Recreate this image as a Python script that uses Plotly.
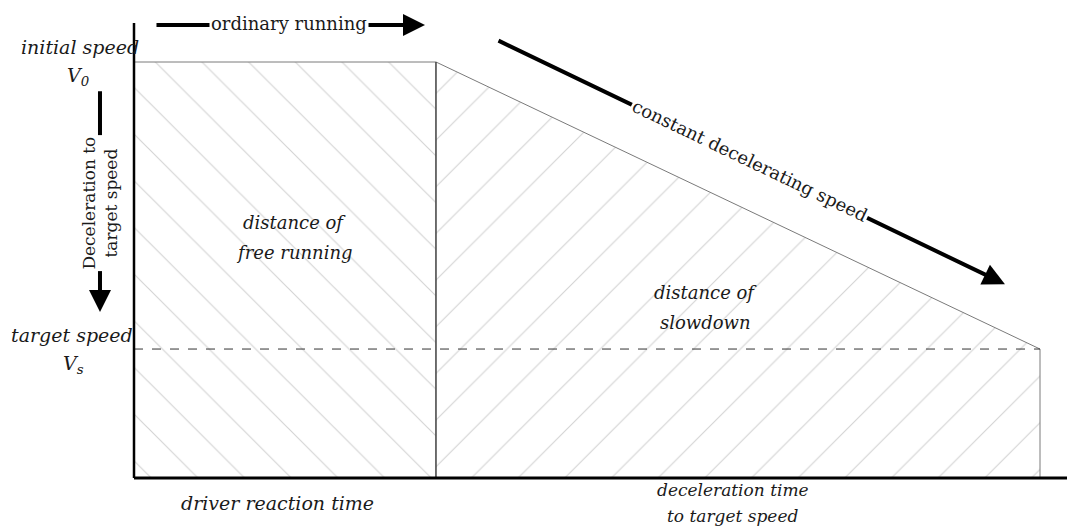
import plotly.graph_objects as go

# ---- data (time in units of reaction time, speed in % of initial speed) ----
time_points = [0.0, 1.0, 3.0]          # start, end of reaction, end of deceleration
initial_speed = 100.0                  # V0
target_speed = 31.0                    # Vs
axis_top = 109.4
axis_right = 3.11

FONT = "DejaVu Serif"
INK = "#1a1a1a"

t0, t1, t2 = time_points
fig = go.Figure()

HATCH = "#a8a8a8"

# free running area (reaction time, constant speed)
fig.add_trace(go.Scatter(
    x=[t0, t0, t1, t1, t0], y=[0, initial_speed, initial_speed, 0, 0],
    fill="toself", mode="lines", line=dict(color="#7a7a7a", width=1),
    fillcolor="white",
    fillpattern=dict(shape="\\", size=33, solidity=0.035, fgcolor=HATCH, bgcolor="white"),
    hoverinfo="skip", showlegend=False))

# slowdown area (constant deceleration)
fig.add_trace(go.Scatter(
    x=[t1, t1, t2, t2, t1], y=[0, initial_speed, target_speed, 0, 0],
    fill="toself", mode="lines", line=dict(color="#7a7a7a", width=1),
    fillcolor="white",
    fillpattern=dict(shape="/", size=33, solidity=0.035, fgcolor=HATCH, bgcolor="white"),
    hoverinfo="skip", showlegend=False))

# vertical separator at end of reaction time
fig.add_trace(go.Scatter(x=[t1, t1], y=[0, initial_speed], mode="lines",
                         line=dict(color="#333333", width=1), hoverinfo="skip", showlegend=False))

# target speed dashed line
fig.add_trace(go.Scatter(x=[t0, t2], y=[target_speed, target_speed], mode="lines",
                         line=dict(color="#333333", width=1, dash="dash"),
                         hoverinfo="skip", showlegend=False))

# axes
fig.add_trace(go.Scatter(x=[t0, t0], y=[0, axis_top], mode="lines",
                         line=dict(color="black", width=2.5), hoverinfo="skip", showlegend=False))
fig.add_trace(go.Scatter(x=[t0, axis_right], y=[0, 0], mode="lines",
                         line=dict(color="black", width=3), hoverinfo="skip", showlegend=False))

annotations = []

def arrow(x, y, ax, ay, head=2):
    annotations.append(dict(x=x, y=y, ax=ax, ay=ay, xref="x", yref="y", axref="x", ayref="y",
                            text="", showarrow=True, arrowhead=head, arrowsize=1.1,
                            arrowwidth=4, arrowcolor="black"))

def label(x, y, text, size=19, italic=True, angle=0, bg=None):
    d = dict(x=x, y=y, xref="x", yref="y", text=text, showarrow=False, textangle=angle,
             font=dict(family=FONT, size=size, color=INK,
                       style="italic" if italic else "normal"))
    if bg:
        d["bgcolor"] = bg
    annotations.append(d)

# arrows
arrow(0.9636, 108.9, 0.0695, 108.9)                 # ordinary running
arrow(-0.1126, 39.9, -0.1126, 93.3)                 # deceleration to target speed
arrow(2.884, 46.6, 1.202, 105.3)                    # constant decelerating speed

# texts on arrows (white background breaks the arrow line)
label(0.513, 109.3, "ordinary running", size=18, italic=False, bg="white")
label(-0.1126, 66.2, "Deceleration to<br>target speed", size=17, italic=False, angle=-90, bg="white")
label(2.040, 76.4, "constant decelerating speed", size=18, italic=False, angle=25.6, bg="white")

# level labels
label(-0.1788, 103.6, "initial speed", size=19)
label(-0.185, 96.4, "V<sub>0</sub>", size=19)
label(-0.2053, 34.4, "target speed", size=19)
label(-0.200, 27.2, "V<sub>s</sub>", size=19)

# area labels
label(0.533, 61.5, "distance of", size=18)
label(0.533, 54.3, "free running", size=18)
label(1.894, 44.7, "distance of", size=18)
label(1.894, 37.5, "slowdown", size=18)

# time labels
label(0.474, -6.0, "driver reaction time", size=19)
label(1.983, -2.9, "deceleration time", size=17)
label(1.983, -9.1, "to target speed", size=17)

# page body has an 8px margin: map figure pixels so that screen pixels line up
OFF = 8
W, H = 1075, 528
x_lo = (OFF - 134) / 302
x_hi = (OFF + W - 134) / 302
y_hi = (478 - OFF) / 4.16
y_lo = (478 - OFF - H) / 4.16

fig.update_layout(
    width=W, height=H,
    margin=dict(l=0, r=0, t=0, b=0),
    paper_bgcolor="white", plot_bgcolor="white",
    xaxis=dict(range=[x_lo, x_hi], visible=False, fixedrange=True),
    yaxis=dict(range=[y_lo, y_hi], visible=False, fixedrange=True),
    annotations=annotations,
    showlegend=False,
)

fig.write_html("out.html")
